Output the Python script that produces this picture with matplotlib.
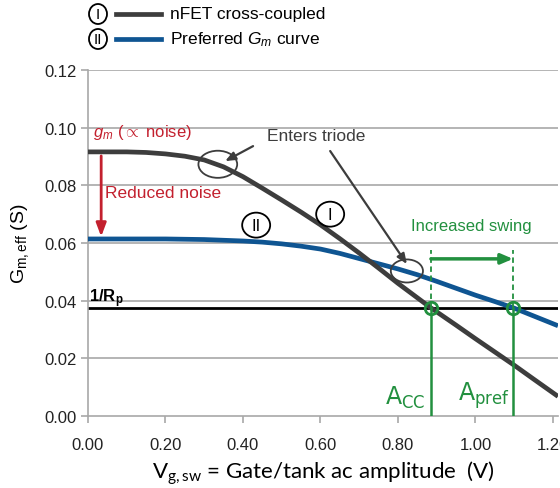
import matplotlib
matplotlib.use("Agg")
import matplotlib.pyplot as plt
from matplotlib.patches import Ellipse
from matplotlib.lines import Line2D

# ---- data ----
x_nfet = [0.00, 0.10, 0.15, 0.20, 0.25, 0.30, 0.35, 0.40, 0.45, 0.50, 0.55, 0.60,
          0.65, 0.70, 0.75, 0.80, 0.85, 0.885, 0.95, 1.00, 1.05, 1.10, 1.15, 1.213]
g_nfet = [0.0916, 0.0916, 0.0914, 0.0909, 0.0901, 0.0888, 0.0864, 0.0830, 0.0790,
          0.0749, 0.0707, 0.0663, 0.0615, 0.0565, 0.0513, 0.0460, 0.0410, 0.0375,
          0.0315, 0.0268, 0.0222, 0.0176, 0.0128, 0.0068]

x_pref = [0.00, 0.20, 0.30, 0.40, 0.45, 0.50, 0.55, 0.60, 0.65, 0.70, 0.75, 0.80,
          0.85, 0.90, 0.95, 1.00, 1.05, 1.10, 1.15, 1.213]
g_pref = [0.0614, 0.0614, 0.0612, 0.0607, 0.0603, 0.0597, 0.0589, 0.0579, 0.0564,
          0.0546, 0.0528, 0.0510, 0.0490, 0.0467, 0.0443, 0.0419, 0.0397, 0.0374,
          0.0347, 0.0313]

inv_rp = 0.0375
a_cc = 0.885
a_pref = 1.097

x_ticks = [0.0, 0.2, 0.4, 0.6, 0.8, 1.0, 1.2]
x_tick_labels = ["0.00", "0.20", "0.40", "0.60", "0.80", "1.00", "1.20"]
y_ticks = [0.00, 0.02, 0.04, 0.06, 0.08, 0.10, 0.12]
y_tick_labels = ["0.00", "0.02", "0.04", "0.06", "0.08", "0.10", "0.12"]

# ---- styles ----
C_BLACK = "#3d3d3d"
C_BLUE = "#0f5592"
C_GREEN = "#22903f"
C_RED = "#c3202e"
C_GRID = "#a8a8a8"
ARIAL = ["Liberation Sans", "DejaVu Sans"]

plt.rcParams["font.family"] = ARIAL
plt.rcParams["mathtext.fontset"] = "custom"
plt.rcParams["mathtext.rm"] = "Liberation Sans"
plt.rcParams["mathtext.it"] = "Liberation Sans:italic"
plt.rcParams["mathtext.bf"] = "Liberation Sans:bold"
plt.rcParams["mathtext.sf"] = "Liberation Sans Narrow"

fig = plt.figure(figsize=(5.6, 4.89), dpi=100)
ax = fig.add_axes([88 / 560, 1 - 417 / 489, (558 - 88) / 560, (417 - 71) / 489])
ax.set_xlim(0, 1.213)
ax.set_ylim(0, 0.12)

for s in ["top", "right"]:
    ax.spines[s].set_visible(False)
for s in ["left", "bottom"]:
    ax.spines[s].set_color(C_GRID)
    ax.spines[s].set_linewidth(1.2)

ax.set_yticks(y_ticks)
ax.set_yticklabels(y_tick_labels, fontsize=12, color="#222222")
ax.set_xticks(x_ticks)
ax.set_xticklabels(x_tick_labels, fontsize=12, color="#222222")
ax.tick_params(axis="both", color=C_GRID, width=1.2, length=5)
ax.tick_params(axis="x", pad=10)
ax.tick_params(axis="y", pad=3)
for yv in y_ticks[1:]:
    ax.axhline(yv, color=C_GRID, lw=1.2, zorder=0)

# 1/Rp line
ax.axhline(inv_rp, color="black", lw=2, zorder=2)
ax.text(0.002, 0.0397, r"$\mathbf{1/R_p}$", fontsize=12, ha="left", va="baseline",
        color="black")

# curves
ax.plot(x_nfet, g_nfet, color=C_BLACK, lw=3.4, solid_capstyle="butt", zorder=4)
ax.plot(x_pref, g_pref, color=C_BLUE, lw=3.4, solid_capstyle="butt", zorder=3)

# green markers / verticals
for xv in (a_cc, a_pref):
    ax.plot([xv, xv], [0, inv_rp], color=C_GREEN, lw=1.8, zorder=5)
    ax.plot([xv, xv], [inv_rp, 0.0575], color=C_GREEN, lw=1.3, ls=(0, (3, 2)), zorder=5)
    ax.plot([xv], [inv_rp], marker="o", ms=9, mfc="none", mec=C_GREEN, mew=2, zorder=6)
ax.annotate("", xy=(a_pref, 0.0545), xytext=(a_cc, 0.0545),
            arrowprops=dict(arrowstyle="-|>,head_length=0.7,head_width=0.3",
                            color=C_GREEN, lw=2.5, shrinkA=0, shrinkB=0), zorder=6)
ax.text(0.99, 0.0662, "Increased swing", color=C_GREEN, fontsize=12,
        ha="center", va="center")
ax.text(a_cc - 0.014, 0.0022, r"$\mathsf{A_{CC}}$", color=C_GREEN, fontsize=17,
        ha="right", va="bottom")
ax.text(a_pref - 0.008, 0.0022, r"$\mathsf{A_{pref}}$", color=C_GREEN, fontsize=17,
        ha="right", va="bottom")

# red annotation
ax.text(0.012, 0.0988, r"$g_m$ ($\propto$ noise)", color=C_RED, fontsize=12,
        ha="left", va="center")
ax.annotate("", xy=(0.034, 0.0622), xytext=(0.034, 0.0902),
            arrowprops=dict(arrowstyle="-|>,head_length=0.8,head_width=0.3",
                            color=C_RED, lw=2, shrinkA=0, shrinkB=0))
ax.text(0.044, 0.0776, "Reduced noise", color=C_RED, fontsize=12.5, ha="left",
        va="center")

# enters triode
ax.text(0.462, 0.0974, "Enters triode", color=C_BLACK, fontsize=12.5, ha="left",
        va="center")
ax.add_patch(Ellipse((0.335, 0.0873), 0.100, 0.0094, fill=False, ec=C_BLACK, lw=1.3,
                     zorder=7))
ax.add_patch(Ellipse((0.823, 0.0503), 0.083, 0.0080, fill=False, ec=C_BLACK, lw=1.3,
                     zorder=7))
arrow_kw = dict(arrowstyle="-|>,head_length=0.6,head_width=0.25", color=C_BLACK,
                lw=1.6, shrinkA=0, shrinkB=0)
ax.annotate("", xy=(0.354, 0.0884), xytext=(0.426, 0.0936), arrowprops=arrow_kw,
            zorder=8)
ax.annotate("", xy=(0.823, 0.0527), xytext=(0.625, 0.0919), arrowprops=arrow_kw,
            zorder=8)

# circled roman numerals on the plot
for (cx, cy, lab) in [(0.625, 0.0700, "I"), (0.434, 0.0662, "II")]:
    ax.add_patch(Ellipse((cx, cy), 28 / 387.5, 25 / 57.7 * 0.02, fill=False,
                         ec="black", lw=1.3, zorder=7))
    ax.text(cx, cy, lab, fontsize=12, ha="center", va="center", color="black",
            family=["Liberation Sans Narrow", "Liberation Sans"])

# axis labels
ax.set_ylabel(r"G$_{\mathregular{m,eff}}$ (S)", fontsize=14, labelpad=10)
fig.text(323 / 560, 1 - 473 / 489,
         r"V$_{\mathregular{g,sw}}$ = Gate/tank ac amplitude  (V)",
         fontsize=16, ha="center", va="center", family=["Lato", "DejaVu Sans"])

# legend at top (figure coordinates in pixels)
W, H = 560, 489
leg = [(15, "I", C_BLACK, "nFET cross-coupled"),
       (40, "II", C_BLUE, r"Preferred $G_m$ curve")]
for ypx, lab, col, txt in leg:
    yf = 1 - ypx / H
    fig.patches.append(Ellipse((98 / W, yf), 18 / W, 20 / H, fill=False, ec="black",
                               lw=1.3, transform=fig.transFigure, figure=fig))
    fig.text(98 / W, yf, lab, fontsize=11, ha="center", va="center",
             family=["Liberation Sans Narrow", "Liberation Sans"])
    fig.lines.append(Line2D([116 / W, 161 / W], [yf, yf], color=col, lw=3.4,
                            transform=fig.transFigure, figure=fig))
    fig.text(170 / W, yf, txt, fontsize=12.5, ha="left", va="center")

fig.savefig("out.png", dpi=100)
